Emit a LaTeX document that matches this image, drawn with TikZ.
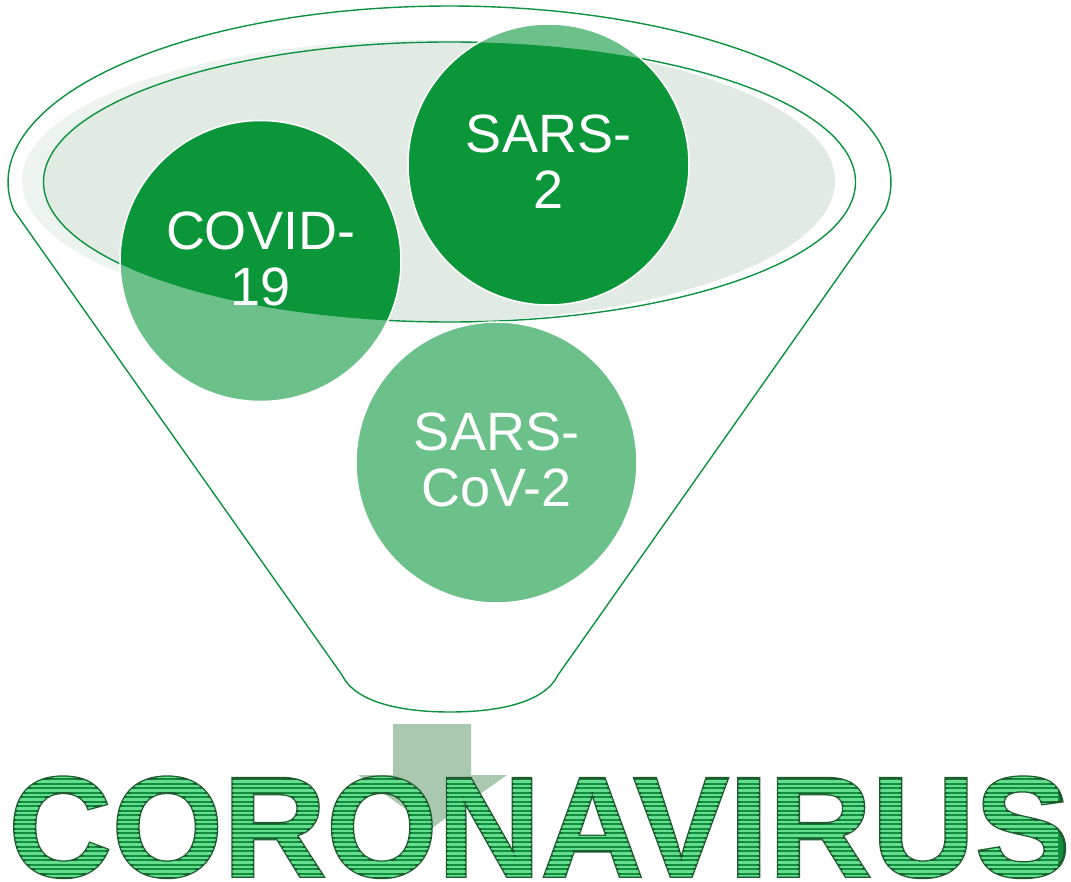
\documentclass[tikz,border=0pt]{standalone}
\usepackage{fontspec}
\setmainfont{Liberation Sans}
\definecolor{fgreen}{HTML}{0C9240}
\definecolor{cdark}{HTML}{0A9639}
\definecolor{clight}{HTML}{6CC18A}
\definecolor{egray}{HTML}{E2EBE3}
\definecolor{elight}{HTML}{EDF3EE}
\definecolor{arrowc}{HTML}{A9C8AF}
\definecolor{tdark}{HTML}{118F3E}
\definecolor{tlight}{HTML}{64DD8E}
\tikzset{
  lbl/.style={text=white, font=\fontsize{54}{56}\selectfont, align=center, inner sep=0pt, yshift=2.5pt},
  circ/.style={circle, fill=clight, minimum size=281pt, inner sep=0pt},
  ttl/.style={font=\fontsize{143}{143}\selectfont\bfseries, inner sep=0pt, anchor=base west},
  fline/.style={draw=fgreen, line width=1.4pt},
}
\begin{document}
\begin{tikzpicture}[x=1pt,y=-1pt]
\useasboundingbox (0,0) rectangle (1071,882);
% funnel mouth fill
\fill[elight] (428.5,181) ellipse [x radius=406.5, y radius=141];
\begin{scope}
  \clip (428.5,181) ellipse [x radius=406.5, y radius=141];
  \fill[egray] (449.5,182) ellipse [x radius=406, y radius=140];
\end{scope}
\draw[fline] (449.5,182) ellipse [x radius=406, y radius=140];
% funnel outline
\coordinate (lc) at (13.5,210);
\coordinate (rc) at (885.5,210);
\coordinate (lb) at (342,675);
\coordinate (rb) at (558,675);
\coordinate (bm) at (450,712);
\draw[fline, line join=round] plot[domain=170.85:369.15, samples=120] ({449.5+441.5*cos(\x)}, {182+176*sin(\x)})
  -- (rb) .. controls (545,702) and (500,712) .. (bm)
  .. controls (400,712) and (355,702) .. (lb) -- (lc);
% circles
\node[circ] (covid) at (260.5,261) {};
\node[circ] (sars2) at (548.5,164.5) {};
\node[circ] (cov2) at (496.5,462.5) {};
\begin{scope}
  \clip (449.5,182) ellipse [x radius=406, y radius=140];
  \fill[cdark] (covid.center) circle (140.5);
  \fill[cdark] (sars2.center) circle (140.5);
\end{scope}
\draw[white, line width=1.5pt] (covid.center) circle (140.5);
\draw[white, line width=1.5pt] (sars2.center) circle (140.5);
\draw[white, line width=1.5pt] (cov2.center) circle (140.5);
\node[lbl] (tcovid) at (covid.center) {COVID-\\19};
\node[lbl] (tsars2) at (sars2.center) {SARS-\\2};
\node[lbl] (tcov2) at (cov2.center) {SARS-\\CoV-2};
% arrow
\fill[arrowc] (393,724) -- (471,724) -- (471,775) -- (507,775) -- (432,828) -- (358,775) -- (393,775) -- cycle;
% title: filled, stroked and used as clip for the stripes
\node[ttl, text=tdark] (title) at (8.3,876.5) {\special{pdf:literal direct 6 Tr 2.6 w 0.11 0.36 0.18 RG}CORONAVIRUS\kern-12pt\color{tlight}\foreach \k in {0,...,24}{\pgfmathsetmacro\rr{103.0-4.5*\k}\llap{\rule[\rr pt]{1056pt}{2.4pt}}}\special{pdf:literal direct 0 Tr}};
\end{tikzpicture}
\end{document}
